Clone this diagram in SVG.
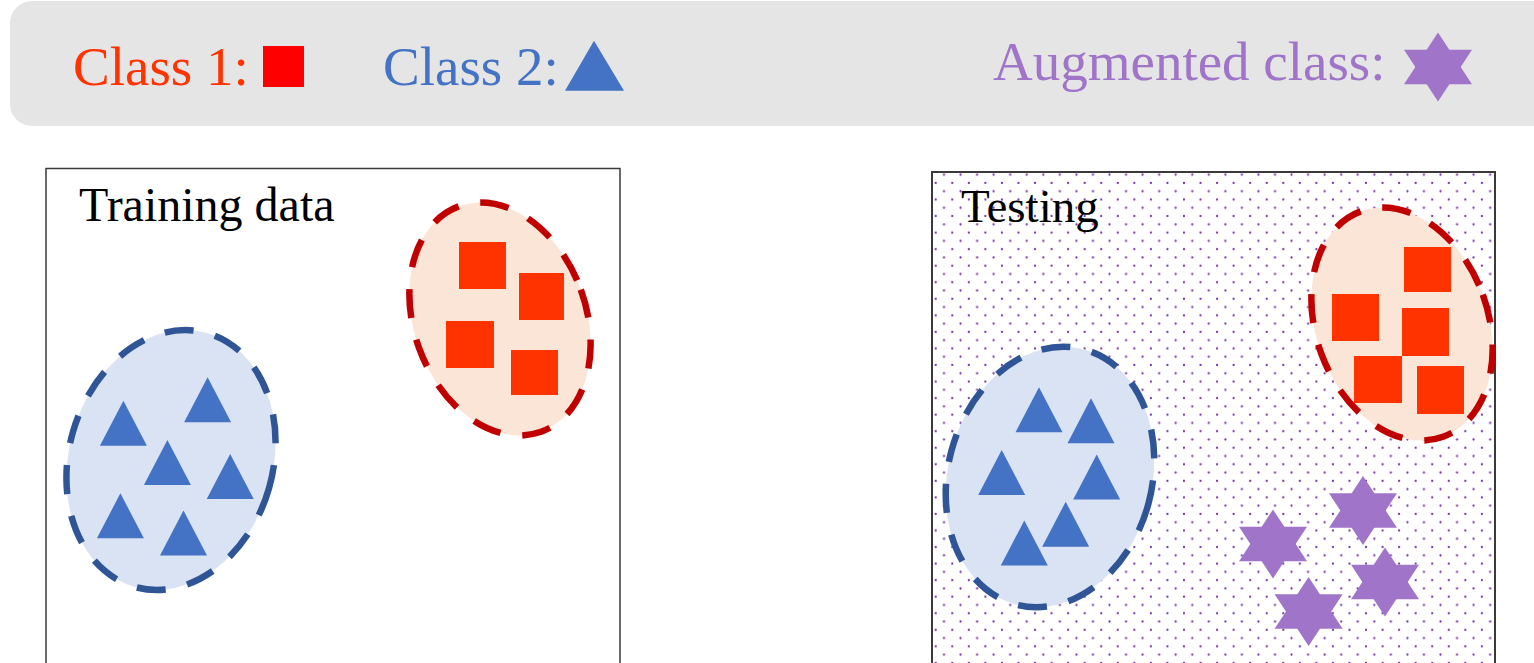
<svg xmlns="http://www.w3.org/2000/svg" xmlns:xlink="http://www.w3.org/1999/xlink" width="1534" height="663" viewBox="0 0 1534 663">
<style>
.t{font-family:"Liberation Serif","Times New Roman",serif}
.sq{fill:#FF3300}
.tri{fill:#4472C4}
.star{fill:#A074C8}
.blueE{fill:#DAE3F3;stroke:#2F5597;stroke-width:6.5;stroke-dasharray:29 22}
.redE{fill:#FBE5D6;stroke:#C00000;stroke-width:6.5;stroke-dasharray:29 22}
.panel{stroke:#3A3A3A}
.dot{fill:#7030A0}
</style>
<defs>
<path id="tri" d="M0,0 L23.5,45 L-23.5,45 Z"/>
<g id="star"><polygon points="0,-34.5 34,17.25 -34,17.25"/><polygon points="0,34.5 34,-17.25 -34,-17.25"/></g>
<pattern id="dots" patternUnits="userSpaceOnUse" x="935.725" y="166.425" width="16.55" height="16.55">
<circle class="dot" cx="0" cy="0" r="1.1"/>
<circle class="dot" cx="16.55" cy="0" r="1.1"/>
<circle class="dot" cx="0" cy="16.55" r="1.1"/>
<circle class="dot" cx="16.55" cy="16.55" r="1.1"/>
<circle class="dot" cx="8.275" cy="8.275" r="1.1"/>
</pattern>
</defs>

<g id="legend">
<rect x="10" y="1" width="1600" height="125" rx="22" ry="22" fill="#E5E5E5"/>
<text class="t" x="73" y="85" font-size="55" fill="#FF3300">Class 1:</text>
<rect x="263" y="46" width="41" height="41" fill="#FF0000"/>
<text class="t" x="383" y="85" font-size="55" fill="#4472C4">Class 2:</text>
<polygon points="594,40.7 624,90.7 565,90.7" fill="#4472C4"/>
<text class="t" x="993" y="80" font-size="55" fill="#A074C8">Augmented class:</text>
<use href="#star" class="star" transform="translate(1438,67)"/>
</g>

<g id="training">
<rect class="panel" x="46" y="168.5" width="574" height="520" fill="#FFFFFF" stroke-width="1.5"/>
<text class="t" x="79" y="221" font-size="48" fill="#000000">Training data</text>
<g id="training-class2">
<ellipse class="blueE" cx="171" cy="460" rx="102" ry="132" transform="rotate(16 171 460)"/>
<use href="#tri" class="tri" x="123.4" y="400.7"/>
<use href="#tri" class="tri" x="207.6" y="377.3"/>
<use href="#tri" class="tri" x="167.4" y="440"/>
<use href="#tri" class="tri" x="230.2" y="454"/>
<use href="#tri" class="tri" x="120.4" y="493.3"/>
<use href="#tri" class="tri" x="183.5" y="510.5"/>
</g>
<g id="training-class1">
<ellipse class="redE" cx="500" cy="319" rx="86" ry="120" transform="rotate(-20 500 319)"/>
<rect class="sq" x="459" y="242" width="47" height="47"/>
<rect class="sq" x="519" y="273" width="45" height="47"/>
<rect class="sq" x="446" y="321" width="48" height="47"/>
<rect class="sq" x="511" y="350" width="47" height="45"/>
</g>
</g>

<g id="testing">
<rect class="panel" x="932" y="172" width="563" height="520" fill="#FFFFFF" stroke-width="2"/>
<rect x="933" y="173" width="561" height="520" fill="url(#dots)"/>
<text class="t" x="961" y="222" font-size="47" fill="#000000">Testing</text>
<g id="testing-class2">
<ellipse class="blueE" cx="1050" cy="477" rx="102" ry="132" transform="rotate(15 1050 477)"/>
<use href="#tri" class="tri" x="1039" y="387.3"/>
<use href="#tri" class="tri" x="1091" y="398.3"/>
<use href="#tri" class="tri" x="1001.7" y="450"/>
<use href="#tri" class="tri" x="1096.7" y="454.5"/>
<use href="#tri" class="tri" x="1065.7" y="501.7"/>
<use href="#tri" class="tri" x="1024.3" y="520.5"/>
</g>
<g id="testing-class1">
<ellipse class="redE" cx="1402" cy="324" rx="86" ry="120" transform="rotate(-20 1402 324)"/>
<rect class="sq" x="1404" y="247" width="47" height="45"/>
<rect class="sq" x="1332" y="294" width="47" height="47"/>
<rect class="sq" x="1402" y="308" width="47" height="48"/>
<rect class="sq" x="1354" y="356" width="48" height="47"/>
<rect class="sq" x="1417" y="366" width="47" height="48"/>
</g>
<g id="testing-augmented">
<use href="#star" class="star" transform="translate(1363,510.5)"/>
<use href="#star" class="star" transform="translate(1273,544)"/>
<use href="#star" class="star" transform="translate(1385,582)"/>
<use href="#star" class="star" transform="translate(1308.6,611.5)"/>
</g>
</g>
</svg>
